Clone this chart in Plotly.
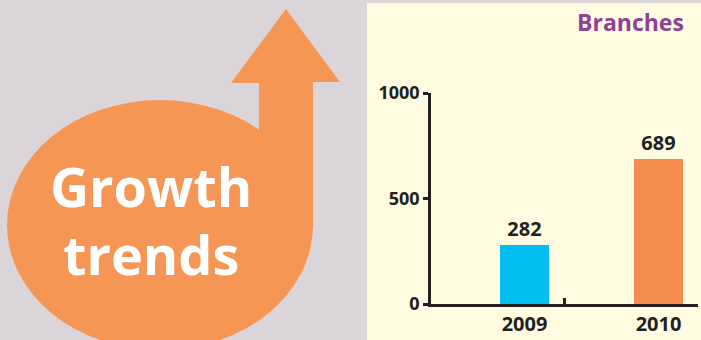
import plotly.graph_objects as go

# ---- data ----
years = ["2009", "2010"]
branches = [282, 689]
bar_colors = ["#00bef2", "#f68b50"]
y_ticks = [0, 500, 1000]
title_text = "Branches"
headline = ["Growth", "trends"]

W, H = 701, 340

def px(x):
    return x / W

def py(y):
    return 1 - y / H

fig = go.Figure()
fig.add_trace(go.Bar(
    x=[0, 1], y=branches, width=0.366,
    marker=dict(color=bar_colors, line=dict(width=0)),
    text=[str(v) for v in branches], textposition="outside",
    textfont=dict(family="Open Sans", size=20, color="#231f20", weight="bold"),
    cliponaxis=False, hoverinfo="skip", showlegend=False,
))
# invisible trace to activate the overlay axis for the inner ticks
fig.add_trace(go.Scatter(x=[0, 1], y=[0, 0], xaxis="x2", mode="markers",
                         marker=dict(opacity=0), hoverinfo="skip", showlegend=False))

xr = [-0.698, 1.2948]
fig.update_layout(
    width=W, height=H,
    margin=dict(l=0, r=0, t=0, b=0, autoexpand=False),
    paper_bgcolor="#dbd5d9", plot_bgcolor="rgba(0,0,0,0)",
    xaxis=dict(domain=[px(431), px(698)], range=xr, tickvals=[0, 1], ticktext=years,
               showline=True, linecolor="#231f20", linewidth=2.5, showgrid=False,
               zeroline=False, ticks="", ticklabelstandoff=0, automargin=False,
               tickfont=dict(family="Open Sans", size=20, color="#231f20", weight="bold")),
    xaxis2=dict(overlaying="x", range=xr, tickvals=[xr[1] - 1, xr[1]], ticks="inside",
                ticklen=6, tickwidth=2.5, tickcolor="#231f20", showticklabels=False,
                showgrid=False, zeroline=False, showline=False, anchor="y", automargin=False),
    yaxis=dict(domain=[py(304), py(93)], range=[0, 1000], tickvals=y_ticks,
               showline=True, linecolor="#231f20", linewidth=2.5, showgrid=False,
               zeroline=False, ticks="outside", ticklen=5, tickwidth=2.5,
               tickcolor="#231f20", automargin=False,
               tickfont=dict(family="Open Sans", size=18, color="#231f20", weight="bold")),
    shapes=[
        dict(type="rect", xref="paper", yref="paper", x0=px(367), x1=1, y0=0, y1=py(3),
             fillcolor="#fffbe0", line=dict(width=0), layer="below"),
        dict(type="circle", xref="paper", yref="paper", x0=px(7), x1=px(313),
             y0=py(350), y1=py(100), fillcolor="#f69654", line=dict(width=0), layer="below"),
        dict(type="path", xref="paper", yref="paper",
             path="M {} {} L {} {} L {} {} L {} {} L {} {} L {} {} L {} {} Z".format(
                 px(231), py(83), px(286), py(9), px(340), py(82), px(313), py(82),
                 px(313), py(227), px(259), py(227), px(259), py(83)),
             fillcolor="#f69654", line=dict(width=0), layer="below"),
    ],
    annotations=[
        dict(text=title_text, xref="paper", yref="paper", x=px(686), y=py(22),
             xanchor="right", yanchor="middle", showarrow=False,
             font=dict(family="Open Sans", size=23, color="#8e3f97", weight="bold")),
        dict(text=headline[0], xref="paper", yref="paper", x=px(151), y=py(186),
             xanchor="center", yanchor="middle", showarrow=False,
             font=dict(family="Open Sans", size=54, color="white", weight="bold")),
        dict(text=headline[1], xref="paper", yref="paper", x=px(151), y=py(254),
             xanchor="center", yanchor="middle", showarrow=False,
             font=dict(family="Open Sans", size=54, color="white", weight="bold")),
    ],
    bargap=0,
)

fig.write_html("out.html")
